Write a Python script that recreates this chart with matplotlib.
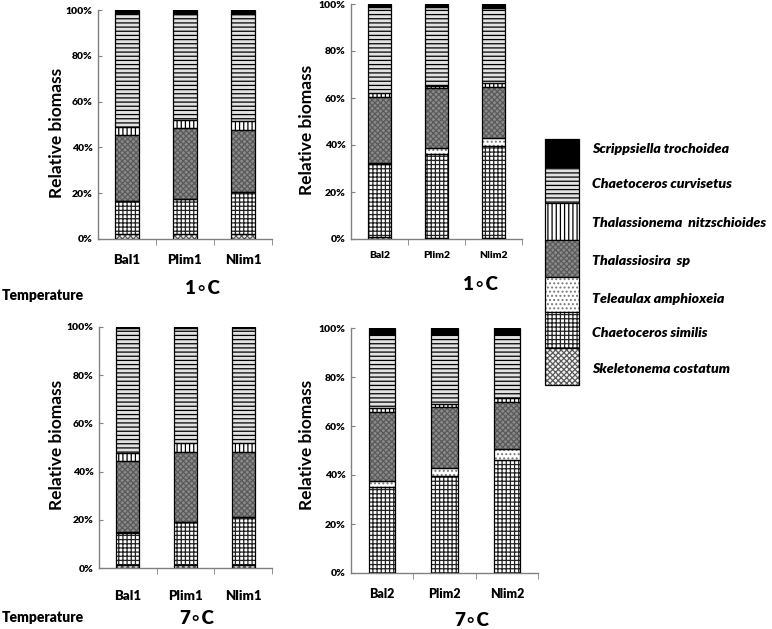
import matplotlib
matplotlib.use("Agg")
import matplotlib.pyplot as plt
import matplotlib.transforms as mtransforms
from matplotlib.patches import Rectangle
import numpy as np

plt.rcParams['font.family'] = ['Lato', 'DejaVu Sans']
plt.rcParams['hatch.linewidth'] = 0.9

W, H = 772, 629
FW = "heavy"

species = ["Skeletonema costatum", "Chaetoceros similis", "Teleaulax amphioxeia",
           "Thalassiosira  sp", "Thalassionema  nitzschioides",
           "Chaetoceros curvisetus", "Scrippsiella trochoidea"]

cats_1 = ["Bal1", "Plim1", "Nlim1"]
cats_2 = ["Bal2", "Plim2", "Nlim2"]

# values (%) per species, bottom -> top, for each treatment
p1_1C = {
    "Skeletonema costatum":        [2.0, 2.0, 2.0],
    "Chaetoceros similis":         [14.6, 15.5, 18.7],
    "Teleaulax amphioxeia":        [0.0, 0.0, 0.0],
    "Thalassiosira  sp":           [28.8, 30.8, 26.9],
    "Thalassionema  nitzschioides":[3.7, 3.7, 4.1],
    "Chaetoceros curvisetus":      [49.4, 46.3, 46.6],
    "Scrippsiella trochoidea":     [1.5, 1.7, 1.7],
}
p2_1C = {
    "Skeletonema costatum":        [0.8, 0.3, 0.3],
    "Chaetoceros similis":         [31.1, 35.9, 39.3],
    "Teleaulax amphioxeia":        [0.3, 2.4, 3.2],
    "Thalassiosira  sp":           [28.1, 25.5, 22.0],
    "Thalassionema  nitzschioides":[1.7, 1.1, 1.4],
    "Chaetoceros curvisetus":      [36.6, 33.7, 32.1],
    "Scrippsiella trochoidea":     [1.4, 1.1, 1.7],
}
p1_7C = {
    "Skeletonema costatum":        [1.4, 1.4, 1.4],
    "Chaetoceros similis":         [13.3, 17.7, 19.8],
    "Teleaulax amphioxeia":        [0.3, 0.0, 0.0],
    "Thalassiosira  sp":           [29.4, 29.2, 27.1],
    "Thalassionema  nitzschioides":[3.2, 3.4, 3.4],
    "Chaetoceros curvisetus":      [51.8, 47.7, 47.7],
    "Scrippsiella trochoidea":     [0.6, 0.6, 0.6],
}
p2_7C = {
    "Skeletonema costatum":        [0.0, 0.0, 0.0],
    "Chaetoceros similis":         [35.1, 39.5, 46.0],
    "Teleaulax amphioxeia":        [2.5, 3.4, 4.6],
    "Thalassiosira  sp":           [28.0, 24.9, 19.1],
    "Thalassionema  nitzschioides":[1.6, 1.3, 1.6],
    "Chaetoceros curvisetus":      [30.2, 28.3, 26.1],
    "Scrippsiella trochoidea":     [2.6, 2.6, 2.6],
}

y_ticks = [0, 20, 40, 60, 80, 100]
y_ticklabels = ["0%", "20%", "40%", "60%", "80%", "100%"]

# style: (face, hatch, hatch colour)
styles = {
    "Skeletonema costatum":        ("#f4f4f4", "xxxxxx", "#5a5a5a"),
    "Chaetoceros similis":         ("white", "++++", "#222222"),
    "Teleaulax amphioxeia":        ("white", "....", "#777777"),
    "Thalassiosira  sp":           ("#8a8a8a", "xxxxxx", "#5a5a5a"),
    "Thalassionema  nitzschioides":("white", "||||", "#000000"),
    "Chaetoceros curvisetus":      ("#e2e2e2", "----", "#000000"),
    "Scrippsiella trochoidea":     ("black", "", "black"),
}

fig = plt.figure(figsize=(W / 100, H / 100), dpi=100)


def add_ax(l, r, t, b):
    return fig.add_axes([l / W, 1 - b / H, (r - l) / W, (b - t) / H])


def draw_panel(ax, data, cats, width, xlab_y, xlab_size, ylab_xy):
    x = np.arange(len(cats))
    bottom = np.zeros(len(cats))
    for sp in species:
        vals = np.array(data[sp], dtype=float)
        face, hatch, hc = styles[sp]
        ax.bar(x, vals, width, bottom=bottom, color=face, hatch=hatch,
               edgecolor=hc, linewidth=0, zorder=2)
        ax.bar(x, vals, width, bottom=bottom, fill=False,
               edgecolor="black", linewidth=0.9, zorder=3)
        bottom += vals
    ax.set_xlim(-0.5, len(cats) - 0.5)
    ax.set_ylim(0, 100)
    ax.set_yticks(y_ticks)
    ax.set_yticklabels(y_ticklabels, fontsize=7.5, fontweight=FW)
    ax.tick_params(axis="y", direction="in", length=3, color="#808080", pad=4)
    ax.set_xticks(x)
    ax.set_xticklabels([])
    ax.tick_params(axis="x", which="major", length=0)
    ax.set_xticks(np.arange(len(cats)) + 0.5, minor=True)
    ax.tick_params(axis="x", which="minor", direction="out", length=4, color="#808080")
    for s in ["top", "right"]:
        ax.spines[s].set_visible(False)
    for s in ["left", "bottom"]:
        ax.spines[s].set_color("#808080")
        ax.spines[s].set_linewidth(1.0)
    tr = mtransforms.blended_transform_factory(ax.transData, fig.transFigure)
    for xi, c in zip(x, cats):
        ax.text(xi, 1 - xlab_y / H, c, transform=tr, ha="center", va="center",
                fontsize=xlab_size, fontweight=FW)
    fig.text(ylab_xy[0] / W, 1 - ylab_xy[1] / H, "Relative biomass", rotation=90,
             ha="center", va="center", fontsize=12.5, fontweight="bold")


ax1 = add_ax(98, 272, 10, 239)
draw_panel(ax1, p1_1C, cats_1, 0.4, 260, 9.5, (57, 133))
ax2 = add_ax(351, 522, 4, 239)
draw_panel(ax2, p2_1C, cats_2, 0.4, 256, 7.5, (307, 130))
ax3 = add_ax(99, 272, 327, 568)
draw_panel(ax3, p1_7C, cats_1, 0.4, 596, 9.5, (57, 445))
ax4 = add_ax(351, 538, 328, 573)
draw_panel(ax4, p2_7C, cats_2, 0.42, 594, 9, (307, 445))

# Temperature labels
for ty in (295, 617):
    fig.text(2 / W, 1 - ty / H, "Temperature", ha="left", va="center",
             fontsize=10, fontweight=FW)
for tx, ty, s in [(202, 289, "1\u2218C"), (480, 285, "1\u2218C"),
                  (197, 619, "7\u2218C"), (472, 620, "7\u2218C")]:
    fig.text(tx / W, 1 - ty / H, s, ha="center", va="center",
             fontsize=13.5, fontweight=FW)

# Legend column
lax = fig.add_axes([0, 0, 1, 1])
lax.set_xlim(0, W)
lax.set_ylim(H, 0)
lax.axis("off")
leg_order = list(reversed(species))
leg_tops = [139, 167, 203, 240, 277, 312, 348]
leg_bots = [167, 203, 240, 277, 312, 348, 385]
leg_text_y = [149, 184, 223, 261, 299, 333, 369]
for sp, t, b, ty in zip(leg_order, leg_tops, leg_bots, leg_text_y):
    face, hatch, hc = styles[sp]
    lax.add_patch(Rectangle((545, t), 34, b - t, facecolor=face, hatch=hatch,
                            edgecolor=hc, linewidth=0))
    lax.add_patch(Rectangle((545, t), 34, b - t, fill=False,
                            edgecolor="black", linewidth=0.9))
    lax.text(592, ty, sp, ha="left", va="center", fontsize=10.2,
             fontweight=FW, fontstyle="italic")

fig.savefig("out.png", dpi=100)
